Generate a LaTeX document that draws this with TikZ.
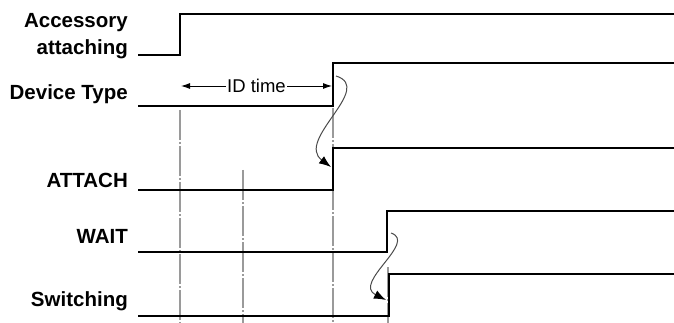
\documentclass[tikz,border=0pt]{standalone}
\usepackage{fontspec}
\setmainfont{Liberation Sans}
\usetikzlibrary{arrows.meta}
\definecolor{gridgrey}{HTML}{9A9A9A}
\definecolor{causegrey}{HTML}{4A4A4A}

\begin{document}
\begin{tikzpicture}[
    x=1pt, y=-1pt,
    every node/.style={inner sep=0pt},
    sig/.style={line width=2.6pt, line join=miter},
    lab/.style={font=\fontsize{20.5}{26.5}\selectfont\bfseries, anchor=base east, align=right},
    guide/.style={gridgrey, line width=1.2pt, dash pattern=on 30pt off 2pt on 2pt off 2pt},
    span/.style={{Latex[length=9pt,width=6pt]}-{Latex[length=9pt,width=6pt]}, line width=0.9pt},
    cause/.style={-{Latex[length=12pt,width=9pt,color=black]}, causegrey, line width=1pt}
  ]
  \useasboundingbox (0,0) rectangle (674,323);

  % --- reperes verticaux en trait mixte ------------------------------------
  \foreach \x/\ytop in {180/110, 243/170, 333/108, 388/267}
    {\draw[guide] (\x,\ytop) -- (\x,323);}

  % --- signaux : niveau bas, front montant, niveau haut ----------------------
  \foreach \nm/\yl/\yh/\xr in {acc/55/14/180, dev/106/63/333, att/190/148/333, wait/252/211/387, sw/316/274/389}
    {\draw[sig] (138,\yl) -- (\xr,\yl) -- (\xr,\yh) -- (674,\yh);}

  % --- noms des signaux ------------------------------------------------------
  \node[lab] (acc)  at (128,54.5) {Accessory\\attaching};
  \node[lab] (dev)  at (128,100) {Device Type};
  \node[lab] (att)  at (128,187) {ATTACH};
  \node[lab] (wait) at (128,243) {WAIT};
  \node[lab] (sw)   at (128,306) {Switching};

  % --- duree d'identification ------------------------------------------------
  \coordinate (idl) at (181,86);
  \coordinate (idr) at (332,86);
  \draw[span] (idl) -- node[fill=white, inner xsep=1.5pt, inner ysep=1pt, font=\fontsize{18.5}{20}\selectfont] (idt) {ID time} (idr);

  % --- enchainements d'un front a l'autre ------------------------------------
  \coordinate (devedge)  at (336,76);
  \coordinate (attedge)  at (331,167);
  \coordinate (waitedge) at (391,233);
  \coordinate (swedge)   at (386,300);
  \draw[cause] (devedge) .. controls (375,88) and (295,140) .. (attedge);
  \draw[cause] (waitedge) .. controls (418,242) and (352,283) .. (swedge);

\end{tikzpicture}
\end{document}
